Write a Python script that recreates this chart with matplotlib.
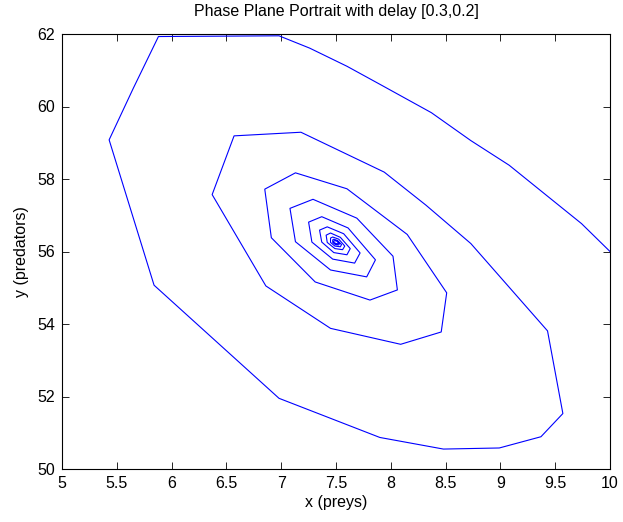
import numpy as np
import matplotlib
matplotlib.use("Agg")
import matplotlib.pyplot as plt

# trajectory vertices (preys, predators)
x_prey = [10.0, 9.74, 9.42, 9.08, 8.73, 8.37, 7.92, 7.60, 7.26, 6.98,
          5.88, 5.65, 5.43, 5.84, 6.98, 7.90, 8.48, 8.99, 9.37, 9.57,
          9.43, 8.73, 8.32, 7.94, 7.18, 6.57, 6.37, 6.86, 7.45, 8.09,
          8.46, 8.51, 8.15, 7.60, 7.13, 6.85, 6.91, 7.31, 7.81, 8.06,
          8.02, 7.69, 7.29, 7.08, 7.13, 7.45, 7.78, 7.86,
          7.61, 7.37, 7.25, 7.28, 7.47, 7.67, 7.72,
          7.57, 7.42, 7.35, 7.37, 7.48, 7.60, 7.63,
          7.54, 7.45, 7.41, 7.42, 7.49, 7.56, 7.58,
          7.525, 7.47, 7.45, 7.45, 7.49, 7.54, 7.55,
          7.515, 7.48, 7.47, 7.47, 7.495, 7.525, 7.53,
          7.51, 7.49, 7.48, 7.48, 7.50, 7.515, 7.52]
y_pred = [56.0, 56.77, 57.55, 58.38, 59.06, 59.83, 60.58, 61.11, 61.61, 61.95,
          61.93, 60.50, 59.08, 55.07, 51.95, 50.87, 50.55, 50.58, 50.89, 51.53,
          53.81, 56.22, 57.28, 58.19, 59.29, 59.19, 57.57, 55.05, 53.88, 53.44,
          53.78, 54.86, 56.47, 57.73, 58.17, 57.72, 56.38, 55.16, 54.66, 54.94,
          55.87, 56.92, 57.44, 57.19, 56.27, 55.49, 55.30, 55.77,
          56.65, 56.96, 56.81, 56.26, 55.79, 55.68, 55.96,
          56.49, 56.68, 56.59, 56.26, 55.97, 55.91, 56.08,
          56.39, 56.51, 56.45, 56.25, 56.08, 56.05, 56.15,
          56.34, 56.40, 56.37, 56.25, 56.15, 56.13, 56.19,
          56.30, 56.34, 56.32, 56.25, 56.19, 56.18, 56.21,
          56.28, 56.30, 56.29, 56.25, 56.22, 56.21, 56.23]

xticks = [5, 5.5, 6, 6.5, 7, 7.5, 8, 8.5, 9, 9.5, 10]
yticks = [50, 52, 54, 56, 58, 60, 62]

plt.rcParams['font.family'] = ['Liberation Sans', 'DejaVu Sans']

fig = plt.figure(figsize=(6.23, 5.22), dpi=100)
ax = fig.add_axes([62/623, 53/522, 548/623, 435/522])
ax.plot(x_prey, y_pred, color=(0, 0, 1), lw=0.8)

ax.set_xlim(5, 10)
ax.set_ylim(50, 62)
ax.set_xticks(xticks)
ax.set_xticklabels([("%g" % t) for t in xticks])
ax.set_yticks(yticks)
ax.tick_params(direction='in', top=True, right=True, length=5, width=0.6, labelsize=11.5)
ax.tick_params(axis='x', pad=5)
ax.tick_params(axis='y', pad=5)
for s in ax.spines.values():
    s.set_linewidth(0.8)

ax.set_xlabel("x (preys)", fontsize=11.5, labelpad=3)
ax.set_ylabel("y (predators)", fontsize=11.5, labelpad=6)
ax.set_title("Phase Plane Portrait with delay [0.3,0.2]", fontsize=11.5, pad=13)

fig.savefig("out.png", dpi=100)
